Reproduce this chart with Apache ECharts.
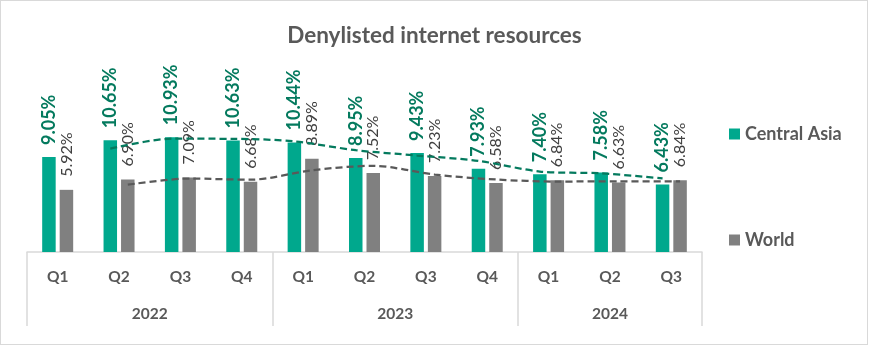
<!DOCTYPE html>
<html>
<head>
<meta charset="utf-8">
<script src="https://cdn.jsdelivr.net/npm/echarts@6/dist/echarts.min.js"></script>
<style>
html,body{margin:0;padding:0;background:#fff;}
#wrap{position:absolute;left:0;top:0;width:868px;height:345px;box-sizing:border-box;border:1px solid #d9d9d9;}
#chart{position:absolute;left:0;top:0;width:869px;height:346px;}
</style>
</head>
<body>
<div id="chart"></div>
<div id="wrap"></div>
<script>
// ---- data ----
const quarters = ['Q1','Q2','Q3','Q4','Q1','Q2','Q3','Q4','Q1','Q2','Q3'];
const years = ['2022','2023','2024'];
const yearSpans = [4, 4, 3];
const centralAsia = [9.05, 10.65, 10.93, 10.63, 10.44, 8.95, 9.43, 7.93, 7.40, 7.58, 6.43];
const world = [5.92, 6.90, 7.09, 6.68, 8.89, 7.52, 7.23, 6.58, 6.84, 6.63, 6.84];
// 2-period moving-average trendlines (as drawn in the reference)
const centralAsiaTrend = [null, 9.85, 10.79, 10.78, 10.535, 9.695, 9.19, 8.68, 7.665, 7.49, 7.005];
const worldTrend = [null, 6.41, 6.995, 6.885, 7.785, 8.205, 7.375, 6.905, 6.71, 6.735, 6.735];

// ---- layout / style ----
const gridLeft = 27, gridRight = 167, gridTop = 126, gridBottom = 94;
const barWidth = 13.5, barGapPx = 4;
const catWidth = (869 - gridLeft - gridRight) / quarters.length;
const barOffset = (barWidth + barGapPx) / 2 / catWidth;
const GREEN = '#00A88D', GREEN_DARK = '#047A5E', GRAY = '#808080', GRAY_TXT = '#404040', AXIS_TXT = '#595959';
const FONT = 'Lato, "Open Sans", sans-serif';

const boundaries = [-0.5];
yearSpans.forEach((s, i) => boundaries.push(boundaries[i] + s));
const yearCenters = yearSpans.map((s, i) => (boundaries[i] + boundaries[i + 1]) / 2);

const chart = echarts.init(document.getElementById('chart'), null, {renderer: 'canvas'});
chart.setOption({
  animation: false,
  backgroundColor: '#fff',
  title: {
    text: 'Denylisted internet resources',
    left: 'center', top: 19,
    textStyle: {fontFamily: FONT, fontSize: 22.5, fontWeight: 'bold', color: AXIS_TXT}
  },
  legend: {
    data: ['Central Asia', 'World'],
    orient: 'vertical',
    left: 724, top: 118,
    itemWidth: 11, itemHeight: 11, itemGap: 84,
    icon: 'rect',
    textStyle: {fontFamily: FONT, fontSize: 18, fontWeight: 'bold', color: AXIS_TXT, lineHeight: 22}
  },
  grid: {left: gridLeft, right: gridRight, top: gridTop, bottom: gridBottom, containLabel: false},
  xAxis: [
    {
      type: 'category', data: quarters, position: 'bottom',
      axisLine: {show: true, lineStyle: {color: '#d9d9d9', width: 1.5}},
      axisTick: {show: false},
      axisLabel: {fontFamily: FONT, fontSize: 15.5, fontWeight: 'bold', color: AXIS_TXT, margin: 17}
    },
    {
      type: 'value', min: boundaries[0], max: boundaries[boundaries.length - 1], position: 'bottom',
      axisLine: {show: false},
      splitLine: {show: false},
      axisTick: {show: true, customValues: boundaries, length: 74, inside: false, lineStyle: {color: '#d9d9d9', width: 1.5}},
      axisLabel: {
        customValues: yearCenters, margin: 54,
        fontFamily: FONT, fontSize: 15.5, fontWeight: 'bold', color: AXIS_TXT,
        formatter: v => { const i = yearCenters.indexOf(v); return i >= 0 ? years[i] : ''; }
      }
    }
  ],
  yAxis: {type: 'value', min: 0, max: 12, show: false, splitLine: {show: false}},
  series: [
    {
      name: 'Central Asia', type: 'bar', xAxisIndex: 0, data: centralAsia,
      barWidth: barWidth, barGap: (barGapPx / barWidth * 100) + '%',
      itemStyle: {color: GREEN},
      label: {
        show: true, position: 'top', rotate: 90, align: 'left', verticalAlign: 'middle', distance: 12,
        formatter: p => p.value.toFixed(2) + '%',
        fontFamily: FONT, fontSize: 18, fontWeight: 'bold', color: GREEN_DARK
      }
    },
    {
      name: 'World', type: 'bar', xAxisIndex: 0, data: world,
      barWidth: barWidth,
      itemStyle: {color: GRAY},
      label: {
        show: true, position: 'top', rotate: 90, align: 'left', verticalAlign: 'middle', distance: 13,
        formatter: p => p.value.toFixed(2) + '%',
        fontFamily: FONT, fontSize: 16, color: GRAY_TXT
      }
    },
    {
      name: 'Central Asia trend', type: 'line', xAxisIndex: 1,
      data: centralAsiaTrend.map((v, i) => v == null ? null : [i - barOffset, v]).filter(d => d),
      symbol: 'none', smooth: 0.3, z: 5,
      lineStyle: {color: GREEN_DARK, width: 2.25, type: [7, 4]}
    },
    {
      name: 'World trend', type: 'line', xAxisIndex: 1,
      data: worldTrend.map((v, i) => v == null ? null : [i + barOffset, v]).filter(d => d),
      symbol: 'none', smooth: 0.3, z: 5,
      lineStyle: {color: '#595959', width: 2.25, type: [7, 4]}
    }
  ]
});
</script>
</body>
</html>
